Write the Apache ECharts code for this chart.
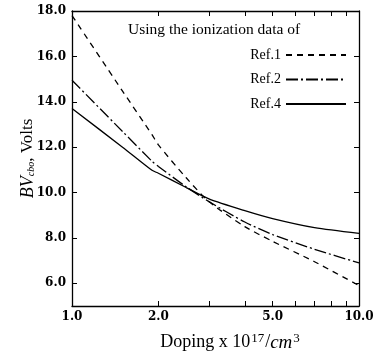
<!DOCTYPE html>
<html>
<head>
<meta charset="utf-8">
<script src="https://cdn.jsdelivr.net/npm/echarts@6/dist/echarts.min.js"></script>
<style>html,body{margin:0;padding:0;background:#fff;}#c{width:375px;height:351px;}</style>
</head>
<body>
<div id="c"></div>
<script>
// Data
const doping = [1, 1.5, 1.9, 2, 2.5, 3, 4, 5, 7, 10];
const ref1 = [17.8, 14.47, 12.55, 12.1, 10.65, 9.6, 8.5, 7.85, 6.95, 5.9];
const ref2 = [14.95, 12.69, 11.38, 11.15, 10.25, 9.6, 8.7, 8.15, 7.5, 6.9];
const ref4 = [13.7, 12.0, 10.98, 10.85, 10.22, 9.72, 9.2, 8.85, 8.45, 8.2];
const xTickLabels = [1, 2, 5, 10];
const xTicks = [1, 2, 3, 4, 5, 6, 7, 8, 9, 10];
const yTickLabels = [6, 8, 10, 12, 14, 16, 18];
const seriesNames = ['Ref.1', 'Ref.2', 'Ref.4'];

const pairs = (ys) => doping.map((x, i) => [x, ys[i]]);
const serif = 'Liberation Serif';
const tickFont = { fontFamily: 'DejaVu Serif', fontWeight: 'bold', fontSize: 12, color: '#000' };
const axisLine = { show: true, lineStyle: { color: '#000', width: 1.3 } };

const chart = echarts.init(document.getElementById('c'), null, { renderer: 'canvas' });
chart.setOption({
  animation: false,
  backgroundColor: '#fff',
  title: {
    text: 'Using the ionization data of',
    left: 128, top: 22, padding: 0,
    textStyle: { fontFamily: serif, fontWeight: 'normal', fontSize: 15.5, color: '#000' }
  },
  legend: {
    data: seriesNames,
    orient: 'vertical',
    right: 28, top: 48,
    align: 'right',
    itemWidth: 60, itemHeight: 14, itemGap: 10.5,
    padding: 0,
    itemStyle: { color: 'rgba(0,0,0,0)', borderWidth: 0 },
    textStyle: { fontFamily: serif, fontSize: 14, color: '#000' }
  },
  grid: { left: 72, right: 16, top: 11, bottom: 45, containLabel: false, outerBoundsMode: 'none' },
  xAxis: [{
    type: 'log', logBase: 10, min: 1, max: 10, position: 'bottom',
    axisLine: axisLine,
    axisTick: { show: true, inside: true, length: 5, customValues: xTicks, lineStyle: { color: '#000', width: 1 } },
    axisLabel: Object.assign({ customValues: xTickLabels, margin: 5, formatter: v => Number(v).toFixed(1) }, tickFont),
    splitLine: { show: false }, minorTick: { show: false },
    name: '{t|Doping x 10}{sup|17}{t|/}{it|cm}{sup|3}',
    nameLocation: 'middle', nameGap: 26, nameMoveOverlap: false,
    nameTextStyle: {
      padding: [0, 0, 0, 30],
      rich: {
        t: { fontFamily: serif, fontSize: 18, color: '#000' },
        it: { fontFamily: serif, fontSize: 19, fontStyle: 'italic', color: '#000' },
        sup: { fontFamily: serif, fontSize: 13, color: '#000', padding: [0, 1, 8, 1] }
      }
    }
  }, {
    type: 'log', logBase: 10, min: 1, max: 10, position: 'top',
    axisLine: axisLine,
    axisTick: { show: true, inside: true, length: 5, customValues: xTicks, lineStyle: { color: '#000', width: 1 } },
    axisLabel: { show: false }, splitLine: { show: false }
  }],
  yAxis: [{
    type: 'value', min: 5, max: 18, position: 'left',
    axisLine: axisLine,
    axisTick: { show: true, inside: true, length: 5, customValues: yTickLabels, lineStyle: { color: '#000', width: 1 } },
    axisLabel: Object.assign({ customValues: yTickLabels, margin: 6, formatter: v => Number(v).toFixed(1) }, tickFont),
    splitLine: { show: false },
    name: '{it|BV}{sub|cbo}{t|, Volts}',
    nameLocation: 'middle', nameRotate: 90, nameGap: 35, nameMoveOverlap: false,
    nameTextStyle: {
      rich: {
        t: { fontFamily: serif, fontSize: 17, color: '#000' },
        it: { fontFamily: serif, fontSize: 18, fontStyle: 'italic', color: '#000' },
        sub: { fontFamily: serif, fontSize: 10, fontStyle: 'italic', color: '#000', padding: [7, 0, 0, 0] }
      }
    }
  }, {
    type: 'value', min: 5, max: 18, position: 'right',
    axisLine: axisLine,
    axisTick: { show: true, inside: true, length: 5, customValues: yTickLabels, lineStyle: { color: '#000', width: 1 } },
    axisLabel: { show: false }, splitLine: { show: false }
  }],
  series: [
    { name: seriesNames[0], type: 'line', data: pairs(ref1), smooth: 0.25, symbol: 'none',
      lineStyle: { color: '#000', width: 1.3, type: [6, 5] }, itemStyle: { color: '#000' } },
    { name: seriesNames[1], type: 'line', data: pairs(ref2), smooth: 0.25, symbol: 'none',
      lineStyle: { color: '#000', width: 1.3, type: [12, 3, 2, 3] }, itemStyle: { color: '#000' } },
    { name: seriesNames[2], type: 'line', data: pairs(ref4), smooth: 0.25, symbol: 'none',
      lineStyle: { color: '#000', width: 1.3, type: 'solid' }, itemStyle: { color: '#000' } }
  ]
});
</script>
</body>
</html>
